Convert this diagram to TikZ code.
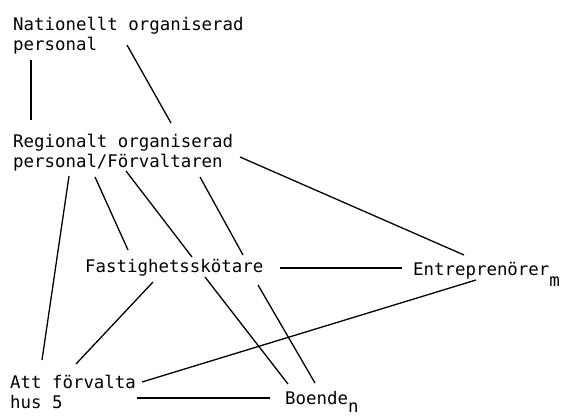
\documentclass[tikz,border=0pt]{standalone}
\usepackage{fontspec}
\setmainfont{DejaVu Sans Mono}
\usepackage{tikz}
\tikzstyle{link}=[draw, line width=1.3pt]
\tikzstyle{lbl}=[inner sep=0pt, align=left, font=\fontsize{17.4}{19.6}\selectfont]

\begin{document}
\begin{tikzpicture}[x=1pt, y=-1pt]
\useasboundingbox (0,0) rectangle (561,415);
% the six labels
\node[lbl, anchor=north west] (nat) at (13,17) {Nationellt organiserad\\personal};
\node[lbl, anchor=north west] (reg) at (13,134) {Regionalt organiserad\\personal/Förvaltaren};
\node[lbl, anchor=base west] (fast) at (85,272) {Fastighetsskötare};
\node[lbl, anchor=base west] (ent) at (413,275) {Entreprenörer\raisebox{-11pt}{m}};
\node[lbl, anchor=north west] (att) at (10,375) {Att förvalta\\hus 5};
\node[lbl, anchor=base west] (boe) at (285,404) {Boende\raisebox{-8pt}{n}};
% connections
\path[link] ([shift={(18,43)}]nat.north west) -- ([shift={(18,-14)}]reg.north west);
\path[link] ([shift={(114,28)}]nat.north west) -- ([shift={(158,-11)}]reg.north west);
\path[link] ([shift={(227,23)}]reg.north west) -- ([shift={(51,-20)}]ent.base west);
\path[link] ([shift={(56,42)}]reg.north west) -- ([shift={(32,-15)}]att.north west);
\path[link] ([shift={(82,43)}]reg.north west) -- ([shift={(43,-22)}]fast.base west);
\path[link] ([shift={(113,37)}]reg.north west) -- ([shift={(107,-15)}]fast.base west);
\path[link] ([shift={(187,43)}]reg.north west) -- ([shift={(158,-17)}]fast.base west);
\path[link] ([shift={(120,5)}]fast.base west) -- ([shift={(3,-20)}]boe.base west);
\path[link] ([shift={(173,13)}]fast.base west) -- ([shift={(30,-21)}]boe.base west);
\path[link] ([shift={(195,-4)}]fast.base west) -- ([shift={(-11,-7)}]ent.base west);
\path[link] ([shift={(68,10)}]fast.base west) -- ([shift={(66,-11)}]att.north west);
\path[link] ([shift={(63,5)}]ent.base west) -- ([shift={(132,7)}]att.north west);
\path[link] ([shift={(127,23)}]att.north west) -- ([shift={(-15,-6)}]boe.base west);
\end{tikzpicture}
\end{document}
